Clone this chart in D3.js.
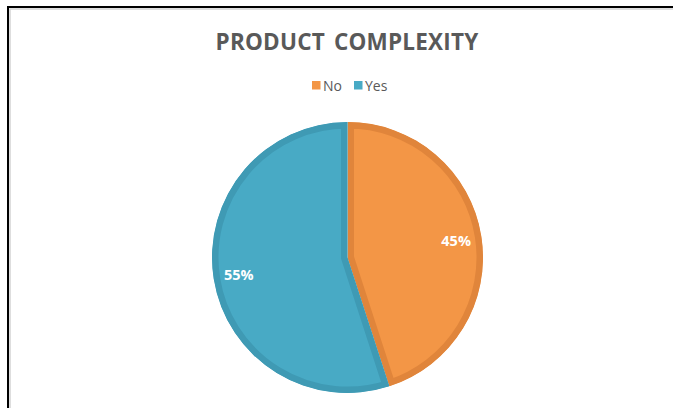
<!DOCTYPE html>
<html>
<head>
<meta charset="utf-8">
<script src="https://cdn.jsdelivr.net/npm/d3@7"></script>
<style>
  html, body { margin: 0; padding: 0; background: #fff; }
  svg { display: block; }
</style>
</head>
<body>
<svg id="chart" width="673" height="408"></svg>
<script>
// Chart data
const categories = ["No", "Yes"];
const values = [45, 55];
const fills = ["#F39646", "#48AAC5"];
const strokes = ["#E0853B", "#3F9AB4"];
const title = "PRODUCT COMPLEXITY";

const svg = d3.select("#chart");
const W = 673, H = 408;

// Chart frame (black outline with a light inner edge)
svg.append("rect").attr("x", 8).attr("y", 7).attr("width", W + 20).attr("height", H + 20)
  .attr("fill", "none").attr("stroke", "#000").attr("stroke-width", 2);
svg.append("rect").attr("x", 10).attr("y", 9).attr("width", W + 20).attr("height", H + 20)
  .attr("fill", "none").attr("stroke", "#d4d4d4").attr("stroke-width", 1.5);

// Title
svg.append("text")
  .attr("x", 347).attr("y", 49.5)
  .attr("text-anchor", "middle")
  .attr("font-family", "'Open Sans', sans-serif")
  .attr("font-weight", "bold")
  .attr("font-size", 22.5)
  .attr("letter-spacing", 0.2)
  .attr("word-spacing", 3)
  .attr("fill", "#595959")
  .text(title);

// Legend
const legend = svg.append("g").attr("font-family", "'Open Sans', sans-serif").attr("font-size", 14).attr("fill", "#595959");
const legendX = [312, 354];
categories.forEach((c, i) => {
  legend.append("rect").attr("x", legendX[i]).attr("y", 81).attr("width", 8.5).attr("height", 8.5).attr("fill", fills[i]);
  legend.append("text").attr("x", legendX[i] + 11).attr("y", 90.5).text(c);
});

// Pie
const cx = 347.5, cy = 257.5, R = 135.5;
const pie = d3.pie().sort(null).value(d => d)(values);
const arc = d3.arc().innerRadius(0).outerRadius(R);
const labelArc = d3.arc().innerRadius(110).outerRadius(110);
const total = d3.sum(values);

const g = svg.append("g").attr("transform", `translate(${cx},${cy})`);
const defs = svg.append("defs");

pie.forEach((p, i) => {
  defs.append("clipPath").attr("id", "clip" + i)
    .append("path").attr("d", arc(p));
  g.append("path")
    .attr("d", arc(p))
    .attr("fill", fills[i])
    .attr("stroke", strokes[i])
    .attr("stroke-width", 13)
    .attr("stroke-linejoin", "miter")
    .attr("clip-path", `url(#clip${i})`);
});

// Percentage labels
pie.forEach((p, i) => {
  const [lx, ly] = labelArc.centroid(p);
  g.append("text")
    .attr("x", lx).attr("y", ly)
    .attr("text-anchor", "middle")
    .attr("dominant-baseline", "central")
    .attr("font-family", "'Open Sans', sans-serif")
    .attr("font-weight", "bold")
    .attr("font-size", 14.5)
    .attr("fill", "#fff")
    .text(Math.round(values[i] / total * 100) + "%");
});
</script>
</body>
</html>
